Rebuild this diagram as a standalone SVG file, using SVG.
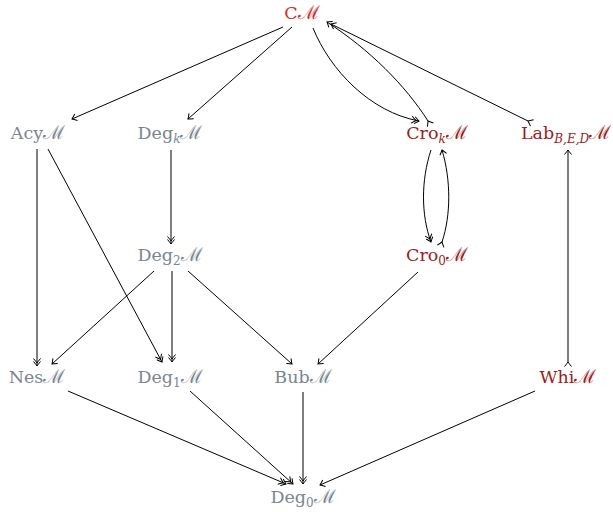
<svg xmlns="http://www.w3.org/2000/svg" width="613" height="512" viewBox="0 0 613 512">
<style>
text{font-family:"DejaVu Serif","Liberation Serif",serif;font-size:17.5px;text-anchor:middle}
.g{fill:#7b8590}
.r{fill:#d42a2a}
.d{fill:#9e1c1c}
.m{font-size:19px}
.i{font-style:italic}
.s{font-size:12px}
.e{fill:none;stroke:#000;stroke-width:1}
.mk{fill:none;stroke:#000;stroke-width:1}
</style>
<defs>
<marker id="h1" markerUnits="userSpaceOnUse" markerWidth="12" markerHeight="12" refX="0" refY="0" viewBox="-8 -6 10 12" orient="auto" overflow="visible">
<path class="mk" d="M-4.5,-3.5 Q-1.2,-0.8 0,0 Q-1.2,0.8 -4.5,3.5"/>
</marker>
<marker id="h2" markerUnits="userSpaceOnUse" markerWidth="14" markerHeight="12" refX="0" refY="0" viewBox="-10 -6 12 12" orient="auto" overflow="visible">
<path class="mk" d="M-4.5,-3.5 Q-1.2,-0.8 0,0 Q-1.2,0.8 -4.5,3.5 M-7.5,-3.5 Q-4.2,-0.8 -3,0 Q-4.2,0.8 -7.5,3.5"/>
</marker>
<marker id="t" markerUnits="userSpaceOnUse" markerWidth="12" markerHeight="12" refX="0" refY="0" viewBox="-8 -6 10 12" orient="auto" overflow="visible">
<path class="mk" d="M-4.5,-3.5 Q-1.2,-0.8 0,0 Q-1.2,0.8 -4.5,3.5"/>
</marker>
</defs>
<g id="connectors">
<path class="e" d="M283,27 L72,119" marker-end="url(#h1)"/>
<path class="e" d="M292,27 L188,119" marker-end="url(#h1)"/>
<path class="e" d="M313,28 C330,70 370,112 419,121" marker-end="url(#h2)"/>
<path class="e" d="M428,121 C405,85 370,50 327,22" marker-start="url(#t)" marker-end="url(#h1)"/>
<path class="e" d="M528,121 L331,24" marker-start="url(#t)" marker-end="url(#h1)"/>
<path class="e" d="M37,149 L37,366" marker-end="url(#h2)"/>
<path class="e" d="M48,149 L162,362" marker-end="url(#h2)"/>
<path class="e" d="M171,150 L171,244" marker-end="url(#h2)"/>
<path class="e" d="M154,271 L52,364" marker-end="url(#h1)"/>
<path class="e" d="M172,271 L172,362" marker-end="url(#h2)"/>
<path class="e" d="M188,271 L292,364" marker-end="url(#h1)"/>
<path class="e" d="M418,272 L318,364" marker-end="url(#h1)"/>
<path class="e" d="M431,150 C421,180 421,215 431,242" marker-end="url(#h2)"/>
<path class="e" d="M442,242 C451,215 451,180 442,150" marker-start="url(#t)" marker-end="url(#h1)"/>
<path class="e" d="M568,362 L568,150" marker-start="url(#t)" marker-end="url(#h1)"/>
<path class="e" d="M68,391 L286,484" marker-end="url(#h2)"/>
<path class="e" d="M190,391 L293,484" marker-end="url(#h2)"/>
<path class="e" d="M303,392 L303,484" marker-end="url(#h2)"/>
<path class="e" d="M535,391 L320,485" marker-end="url(#h1)"/>
</g>
<g id="CM"><text class="r" x="302" y="19">C<tspan class="m">ℳ</tspan></text></g>
<g id="Acy"><text class="g" x="38" y="139">Acy<tspan class="m">ℳ</tspan></text></g>
<g id="Degk"><text class="g" x="170" y="139">Deg<tspan class="s i" dy="4">k</tspan><tspan class="m" dy="-4">ℳ</tspan></text></g>
<g id="Crok"><text class="d" x="437" y="139">Cro<tspan class="s i" dy="4">k</tspan><tspan class="m" dy="-4">ℳ</tspan></text></g>
<g id="Lab"><text class="d" x="521" y="139" style="text-anchor:start">Lab<tspan class="s i" dy="4">B,E,D</tspan><tspan class="m" dy="-4">ℳ</tspan></text></g>
<g id="Deg2"><text class="g" x="170" y="261">Deg<tspan class="s" dy="4">2</tspan><tspan class="m" dy="-4">ℳ</tspan></text></g>
<g id="Cro0"><text class="d" x="437" y="261">Cro<tspan class="s" dy="4">0</tspan><tspan class="m" dy="-4">ℳ</tspan></text></g>
<g id="Nes"><text class="g" x="37" y="383">Nes<tspan class="m">ℳ</tspan></text></g>
<g id="Deg1"><text class="g" x="170" y="383">Deg<tspan class="s" dy="4">1</tspan><tspan class="m" dy="-4">ℳ</tspan></text></g>
<g id="Bub"><text class="g" x="303" y="383">Bub<tspan class="m">ℳ</tspan></text></g>
<g id="Whi"><text class="d" x="568" y="383">Whi<tspan class="m">ℳ</tspan></text></g>
<g id="Deg0"><text class="g" x="303" y="503">Deg<tspan class="s" dy="4">0</tspan><tspan class="m" dy="-4">ℳ</tspan></text></g>
</svg>
